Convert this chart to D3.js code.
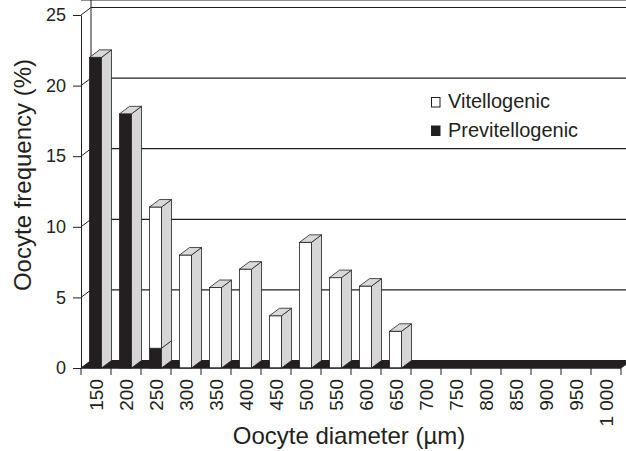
<!DOCTYPE html>
<html>
<head>
<meta charset="utf-8">
<script src="https://cdn.jsdelivr.net/npm/d3@7"></script>
<style>
  body { margin: 0; background: #fff; }
  text { font-family: "Liberation Sans", Arial, sans-serif; fill: #231f20; }
</style>
</head>
<body>
<svg id="chart" width="626" height="451"></svg>
<script>
// oocyte diameter classes (um)
var categories = ["150", "200", "250", "300", "350", "400", "450", "500", "550",
  "600", "650", "700", "750", "800", "850", "900", "950", "1 000"];
// frequency (%) per class
var previtellogenic = [22, 18, 1.4, 0, 0, 0, 0, 0, 0, 0, 0, 0, 0, 0, 0, 0, 0, 0];
var vitellogenic = [0, 0, 10.0, 8, 5.7, 7, 3.7, 8.9, 6.4, 5.8, 2.6, 0, 0, 0, 0, 0, 0, 0];
var yTicks = [0, 5, 10, 15, 20, 25];
var seriesNames = ["Vitellogenic", "Previtellogenic"];

var ink = "#231f20";
var DX = 10, DY = -7.5; // depth of the 3d box

var svg = d3.select("#chart");

var x = d3.scaleBand().domain(categories).range([81, 621]);
var y = d3.scaleLinear().domain([0, 25]).range([368, 15]);

var left = x.range()[0], right = x.range()[1];
var bottom = y(0), top = y(25);

// back wall
svg.append("rect")
  .attr("x", left + DX).attr("y", top + DY)
  .attr("width", right - left).attr("height", bottom - top)
  .attr("fill", "#fff");

// gridlines on back wall
svg.append("g")
  .selectAll("line")
  .data(yTicks.slice(1))
  .enter()
  .append("line")
  .attr("x1", left + DX).attr("x2", right + DX)
  .attr("y1", d => y(d) + DY).attr("y2", d => y(d) + DY)
  .attr("stroke", ink).attr("stroke-width", 1.2);

// slants on the side wall
svg.append("g")
  .selectAll("line")
  .data(yTicks.slice(1))
  .enter()
  .append("line")
  .attr("x1", left).attr("x2", left + DX)
  .attr("y1", d => y(d)).attr("y2", d => y(d) + DY)
  .attr("stroke", ink).attr("stroke-width", 1);

svg.append("line")
  .attr("x1", left + DX).attr("x2", left + DX)
  .attr("y1", top + DY).attr("y2", bottom + DY)
  .attr("stroke", ink).attr("stroke-width", 1);

// floor
svg.append("polygon")
  .attr("points", [[left, bottom], [right, bottom], [right + DX, bottom + DY], [left + DX, bottom + DY]].join(" "))
  .attr("fill", ink).attr("stroke", ink).attr("stroke-width", 1);

// bars
var stacks = categories.map(function(c, i) {
  return { cat: c, segs: [
    { y0: 0, y1: previtellogenic[i], fill: ink },
    { y0: previtellogenic[i], y1: previtellogenic[i] + vitellogenic[i], fill: "#fff" }
  ].filter(s => s.y1 > s.y0) };
});

var bw = 12, off = 8.5;

var barG = svg.append("g")
  .selectAll("g")
  .data(stacks)
  .enter()
  .append("g");

barG.each(function(d) {
  var g = d3.select(this);
  var x0 = x(d.cat) + off;
  d.segs.forEach(function(s, k) {
    var yb = y(s.y0), yt = y(s.y1);
    g.append("rect")
      .attr("x", x0).attr("y", yt).attr("width", bw).attr("height", yb - yt)
      .attr("fill", s.fill).attr("stroke", ink).attr("stroke-width", 0.8);
    g.append("polygon")
      .attr("points", [[x0 + bw, yt], [x0 + bw + DX, yt + DY], [x0 + bw + DX, yb + DY], [x0 + bw, yb]].join(" "))
      .attr("fill", "#d6d6d6").attr("stroke", ink).attr("stroke-width", 0.8);
    if (k == d.segs.length - 1) {
      g.append("polygon")
        .attr("points", [[x0, yt], [x0 + DX, yt + DY], [x0 + bw + DX, yt + DY], [x0 + bw, yt]].join(" "))
        .attr("fill", "#d9d9d9").attr("stroke", ink).attr("stroke-width", 0.8);
    }
  });
});

// y axis
var yAxis = svg.append("g")
  .attr("transform", "translate(" + left + ",0)")
  .call(d3.axisLeft(y).tickValues(yTicks).tickSize(8).tickSizeOuter(0).tickPadding(7));
yAxis.selectAll("path, line").attr("stroke", ink).attr("stroke-width", 1);
yAxis.selectAll("text").style("font-size", "18px").attr("fill", ink)
  .style("font-family", "'Liberation Sans', Arial, sans-serif");

svg.append("line")
  .attr("x1", left).attr("x2", left + DX)
  .attr("y1", top).attr("y2", top + DY)
  .attr("stroke", ink);
svg.append("line")
  .attr("x1", left + DX).attr("x2", right + DX)
  .attr("y1", top + DY).attr("y2", top + DY)
  .attr("stroke", ink).attr("stroke-width", 1.2);

// x axis: line, ticks at class boundaries, rotated labels at centres
svg.append("line")
  .attr("x1", left).attr("x2", right)
  .attr("y1", bottom).attr("y2", bottom)
  .attr("stroke", ink);

svg.append("g")
  .selectAll("line")
  .data(categories.map(c => x(c)).concat([right]))
  .enter()
  .append("line")
  .attr("x1", d => d).attr("x2", d => d)
  .attr("y1", bottom).attr("y2", bottom + 7)
  .attr("stroke", ink);

var xAxis = svg.append("g")
  .attr("transform", "translate(0," + bottom + ")")
  .call(d3.axisBottom(x).tickSize(0).tickPadding(0));
xAxis.select(".domain").remove();
xAxis.selectAll("text")
  .attr("transform", "rotate(-90)")
  .attr("x", -11).attr("y", 0).attr("dy", "0.36em")
  .attr("text-anchor", "end")
  .attr("fill", ink)
  .style("font-size", "19px")
  .style("font-family", "'Liberation Sans', Arial, sans-serif");

// axis titles
svg.append("text")
  .attr("transform", "translate(31,175) rotate(-90)")
  .attr("text-anchor", "middle")
  .style("font-size", "24px")
  .text("Oocyte frequency (%)");

svg.append("text")
  .attr("x", 349).attr("y", 444)
  .attr("text-anchor", "middle")
  .style("font-size", "24px")
  .text("Oocyte diameter (\u00b5m)");

// legend
var leg = svg.append("g")
  .selectAll("g")
  .data(seriesNames)
  .enter()
  .append("g")
  .attr("transform", (d, i) => "translate(431," + (108 + i * 28.5) + ")");
leg.append("rect")
  .attr("x", 0.5).attr("y", -10.5).attr("width", 8.5).attr("height", 9.5)
  .attr("fill", (d, i) => i == 0 ? "#fff" : ink)
  .attr("stroke", ink).attr("stroke-width", 1);
leg.append("text")
  .attr("x", 17).attr("y", 0)
  .style("font-size", "20px")
  .text(d => d);
</script>
</body>
</html>
